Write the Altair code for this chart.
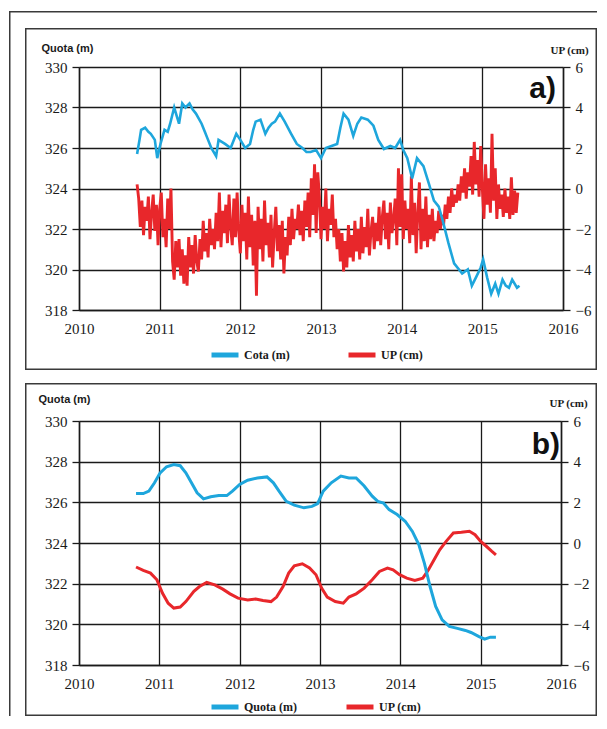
import altair as alt
import pandas as pd

YEARS = [2010, 2011, 2012, 2013, 2014, 2015, 2016]
QUOTA_TICKS = [318, 320, 322, 324, 326, 328, 330]
UP_TICKS = [-6, -4, -2, 0, 2, 4, 6]

# ---- panel a) : raw series ----
A_COTA_YEAR = [2010.72, 2010.75, 2010.77, 2010.82, 2010.86, 2010.89, 2010.94, 2010.97, 2011.01, 2011.06,
               2011.10, 2011.13, 2011.18, 2011.21, 2011.24, 2011.28, 2011.32, 2011.37, 2011.41, 2011.45,
               2011.52, 2011.56, 2011.59, 2011.64, 2011.70, 2011.73, 2011.77, 2011.81, 2011.88, 2011.95,
               2012.00, 2012.06, 2012.12, 2012.16, 2012.19, 2012.25, 2012.31, 2012.35, 2012.39, 2012.43,
               2012.49, 2012.55, 2012.63, 2012.70, 2012.77, 2012.82, 2012.87, 2012.94, 2012.97, 2013.00,
               2013.06, 2013.13, 2013.20, 2013.24, 2013.28, 2013.34, 2013.40, 2013.45, 2013.50, 2013.58,
               2013.65, 2013.71, 2013.78, 2013.86, 2013.92, 2013.98, 2014.02, 2014.07, 2014.13, 2014.19,
               2014.27, 2014.34, 2014.40, 2014.46, 2014.51, 2014.58, 2014.65, 2014.75, 2014.82, 2014.87,
               2014.92, 2014.98, 2015.01, 2015.06, 2015.11, 2015.16, 2015.20, 2015.25, 2015.29, 2015.33,
               2015.37, 2015.43, 2015.46]
A_COTA = [325.7, 326.4, 326.9, 327.0, 326.8, 326.7, 326.4, 325.5, 326.2, 326.9,
          326.8, 327.2, 328.0, 327.6, 327.2, 328.2, 328.0, 328.2, 327.9, 327.7,
          327.2, 326.8, 326.5, 326.0, 325.6, 326.4, 326.3, 326.2, 326.0, 326.7,
          326.4, 326.0, 326.2, 326.9, 327.3, 327.4, 326.7, 327.0, 327.2, 327.3,
          327.7, 327.3, 326.7, 326.2, 326.0, 325.8, 325.8, 325.9, 325.7, 325.5,
          326.0, 326.1, 326.2, 327.0, 327.7, 327.4, 326.6, 327.2, 327.5, 327.4,
          327.1, 326.4, 325.95, 326.1, 326.0, 326.4, 325.9, 325.5, 324.5, 325.5,
          325.1, 324.2, 323.4, 323.1, 322.4, 321.3, 320.3, 319.8, 320.0, 319.2,
          319.6, 320.1, 320.5, 319.6, 318.8, 319.3, 318.8, 319.5, 319.2, 319.1,
          319.5, 319.1, 319.2]

A_UP_START = 2010.72
A_UP_STEP = 0.02
A_UP = [0.2, -0.5, -1.9, -0.6, -2.3, -0.9, -1.6, -0.4, -2.5, -1.2,
        -0.3, -2.1, -0.8, -2.8, -1.0, -0.2, -2.4, -1.5, -2.9, -0.5,
        -2.0, 0.0, -3.6, -4.5, -2.6, -3.9, -2.5, -4.3, -3.0, -4.7,
        -3.3, -4.8, -2.4, -3.9, -2.8, -4.2, -2.3, -3.6, -4.1, -2.5,
        -3.5, -1.6, -3.1, -2.2, -3.4, -1.5, -2.8, -2.0, -3.0, -1.2,
        -2.6, -0.2, -2.9, -1.1, -2.2, -0.8, -2.7, -0.3, -1.9, -2.8,
        -0.5, -2.4, -0.2, -2.1, -3.2, -0.8, -2.6, -1.2, -3.5, -0.4,
        -2.9, -1.3, -3.8, -1.6, -5.3, -0.9, -3.0, -1.5, -3.6, -0.6,
        -2.8, -1.7, -3.4, -1.3, -3.9, -2.2, -0.9, -3.1, -1.8, -3.5,
        -1.6, -4.2, -2.4, -3.3, -1.4, -2.8, -1.0, -2.5, -1.5, -2.0,
        -0.8, -2.3, -1.1, -2.6, -0.6, -1.9, -0.2, -2.4, 0.5, -1.3,
        1.2, -2.2, 0.8, -0.4, -2.5, -0.9, -2.0, 0.0, -2.6, -1.0,
        -1.8, -0.3, -2.4, -1.5, -3.0, -2.0, -3.6, -2.2, -4.1, -2.6,
        -3.9, -1.8, -3.4, -2.3, -3.6, -1.6, -3.1, -2.0, -3.5, -1.4,
        -3.2, -1.9, -2.9, -1.0, -3.3, -2.1, -1.4, -3.0, -1.7, -2.6,
        -0.9, -2.8, -1.4, -0.6, -2.5, -1.2, -3.0, -0.7, -2.2, -1.5,
        -0.5, -2.8, 1.0, -1.9, 0.7, -2.5, -0.6, -2.0, -1.0, -2.7,
        0.6, -2.3, -0.7, -3.2, -1.2, 0.3, -3.0, -1.0, -2.6, -0.4,
        -2.9, -1.3, -2.5, -1.0, -2.6, -1.6, -2.2, -1.1, -2.0, -1.3,
        -1.8, -0.8, -1.5, -0.4, -1.2, 0.0, -0.9, -0.3, -0.7, 0.2,
        -0.6, 0.6, -0.2, 1.0, -0.5, 0.8, 0.1, 1.6, -0.3, 2.3,
        0.2, 1.4, -0.4, 2.1, 0.0, -1.5, 1.2, -0.8, 0.5, -1.2,
        2.7, -0.6, 1.0, -1.5, 0.2, -1.0, -0.3, -1.4, 0.0, -1.2,
        -0.4, -1.5, 0.55, -1.3, -0.1, -1.2, -0.2]
A_UP_YEAR = [round(A_UP_START + A_UP_STEP * i, 2) for i in range(len(A_UP))]

# ---- panel b) : smoothed series ----
B_QUOTA_YEAR = [2010.71, 2010.80, 2010.87, 2010.94, 2011.01, 2011.09, 2011.18, 2011.26, 2011.33, 2011.40,
                2011.47, 2011.55, 2011.64, 2011.74, 2011.84, 2011.91, 2012.00, 2012.10, 2012.22, 2012.34,
                2012.42, 2012.49, 2012.58, 2012.68, 2012.80, 2012.90, 2012.97, 2013.04, 2013.14, 2013.26,
                2013.36, 2013.45, 2013.55, 2013.65, 2013.72, 2013.79, 2013.86, 2013.96, 2014.06, 2014.15,
                2014.23, 2014.30, 2014.37, 2014.44, 2014.52, 2014.61, 2014.71, 2014.81, 2014.88, 2014.98,
                2015.05, 2015.12, 2015.19]
B_QUOTA = [326.43, 326.43, 326.55, 326.96, 327.45, 327.75, 327.86, 327.8, 327.45, 326.96,
           326.47, 326.17, 326.27, 326.33, 326.33, 326.55, 326.88, 327.09, 327.2, 327.25,
           326.96, 326.55, 326.05, 325.86, 325.73, 325.8, 325.94, 326.55, 326.96, 327.29,
           327.2, 327.2, 326.8, 326.3, 326.05, 325.97, 325.64, 325.4, 325.07, 324.57,
           323.92, 323.0, 321.86, 320.88, 320.22, 319.9, 319.8, 319.7, 319.6, 319.4,
           319.27, 319.37, 319.37]
B_UP_YEAR = [2010.71, 2010.80, 2010.89, 2010.97, 2011.04, 2011.11, 2011.18, 2011.26, 2011.33, 2011.43,
             2011.50, 2011.59, 2011.69, 2011.79, 2011.88, 2011.98, 2012.10, 2012.20, 2012.29, 2012.39,
             2012.46, 2012.54, 2012.61, 2012.68, 2012.78, 2012.87, 2012.95, 2013.02, 2013.09, 2013.19,
             2013.29, 2013.36, 2013.45, 2013.55, 2013.65, 2013.74, 2013.84, 2013.91, 2013.99, 2014.08,
             2014.18, 2014.28, 2014.35, 2014.42, 2014.49, 2014.57, 2014.66, 2014.76, 2014.86, 2014.93,
             2015.00, 2015.07, 2015.14, 2015.19]
B_UP = [-1.18, -1.35, -1.48, -1.81, -2.47, -2.96, -3.2, -3.15, -2.88, -2.38,
        -2.14, -1.94, -2.06, -2.27, -2.5, -2.71, -2.8, -2.75, -2.83, -2.88,
        -2.66, -2.14, -1.48, -1.12, -1.02, -1.23, -1.56, -2.22, -2.66, -2.88,
        -2.96, -2.66, -2.5, -2.22, -1.81, -1.4, -1.23, -1.32, -1.56, -1.73,
        -1.84, -1.73, -1.32, -0.82, -0.33, 0.08, 0.49, 0.53, 0.58, 0.41,
        0.08, -0.16, -0.41, -0.58]

BLUE = "#1ea6dc"
RED = "#e8272b"
INK = "#1a1a1a"
FRAME = "#3a3a3a"
SERIF = "Liberation Serif, Times New Roman, serif"
SANS = "Liberation Sans, Arial, sans-serif"


def box(x1, x2, y1, y2):
    return alt.Chart(pd.DataFrame({"k": [0]})).mark_rect(fill=FRAME, strokeWidth=0).encode(
        x=alt.value(x1), x2=alt.value(x2), y=alt.value(y1), y2=alt.value(y2))


def frame(x1, x2, y1, y2, t=1.5):
    return [box(x1, x2, y1, y1 + t), box(x1, x2, y2 - t, y2),
            box(x1, x1 + t, y1, y2), box(x2 - t, x2, y1, y2)]


def panel(q_year, q_val, q_name, u_year, u_val, u_name, tag, w, h, lw_q, lw_u,
          q_title_xy, u_title_xy, tag_xy, legend_xy, col_pad, frame_box, extra=None):
    dq = pd.DataFrame({"year": q_year, "quota": q_val, "serie": q_name})
    du = pd.DataFrame({"year": u_year, "up": u_val, "serie": u_name})
    one = pd.DataFrame({"k": [0]})

    x = alt.X("year:Q", scale=alt.Scale(domain=[2010, 2016], nice=False, zero=False),
              axis=alt.Axis(values=YEARS, format="d", title=None, grid=True, gridColor=INK,
                            gridWidth=1.3, domainColor=INK, domainWidth=1.5, ticks=False,
                            labelPadding=11, labelFont=SERIF, labelFontSize=15, labelColor=INK,
                            labelFlush=False))
    color = alt.Color(
        "serie:N",
        scale=alt.Scale(domain=[q_name, u_name], range=[BLUE, RED]),
        legend=alt.Legend(orient="none", legendX=legend_xy[0], legendY=legend_xy[1],
                          direction="horizontal", title=None, symbolType="stroke",
                          symbolSize=729, symbolStrokeWidth=5, labelFont=SERIF,
                          labelFontWeight="bold", labelFontSize=12, labelColor=INK,
                          labelOffset=3, columnPadding=col_pad),
    )
    y_q = alt.Y("quota:Q", scale=alt.Scale(domain=[318, 330], nice=False, zero=False),
                axis=alt.Axis(orient="left", values=QUOTA_TICKS, format="d", grid=True,
                              gridColor=INK, gridWidth=1.3, domainColor=INK, domainWidth=1.5,
                              tickColor=INK, tickSize=7, tickWidth=1.3, labelPadding=5,
                              labelFont=SERIF, labelFontSize=15, labelColor=INK,
                              title="Quota (m)", titleAngle=0, titleAlign="left",
                              titleBaseline="middle", titleX=q_title_xy[0], titleY=q_title_xy[1],
                              titleFont=SANS, titleFontWeight="bold", titleFontSize=11,
                              titleColor=INK))
    y_u = alt.Y("up:Q", scale=alt.Scale(domain=[-6, 6], nice=False, zero=False),
                axis=alt.Axis(orient="right", values=UP_TICKS, format="d", grid=False,
                              domainColor=INK, domainWidth=1.5, tickColor=INK, tickSize=7,
                              tickWidth=1.3, labelPadding=5, labelFont=SERIF, labelFontSize=15,
                              labelColor=INK, title="UP (cm)", titleAngle=0, titleAlign="left",
                              titleBaseline="middle", titleX=u_title_xy[0], titleY=u_title_xy[1],
                              titleFont=SERIF, titleFontWeight="bold", titleFontSize=11,
                              titleColor=INK))

    red = alt.Chart(du).mark_line(strokeWidth=lw_u).encode(x=x, y=y_u, color=color)
    blue = alt.Chart(dq).mark_line(strokeWidth=lw_q).encode(x=x, y=y_q, color=color)

    label = alt.Chart(one).mark_text(text=tag, align="right", baseline="middle", font=SANS,
                                     fontWeight="bold", fontSize=30, color="#111").encode(
        x=alt.value(tag_xy[0]), y=alt.value(tag_xy[1]))

    layers = [red, blue, label] + frame(*frame_box)
    if extra:
        layers += extra
    return alt.layer(*layers).resolve_scale(y="independent").properties(width=w, height=h)


# outer frame pieces (top edge and left edge), relative to panel a plot origin
outer = [box(-70, 518, -56, -54.5), box(-70, -68.5, -56, 649)]

chart_a = panel(A_COTA_YEAR, A_COTA, "Cota (m)", A_UP_YEAR, A_UP, "UP (cm)", "a)",
                484, 243, 2.6, 2.9,
                q_title_xy=(-38, -19), u_title_xy=(-13, -17), tag_xy=(477, 22),
                legend_xy=(130, 272), col_pad=48, frame_box=(-54, 518, -39, 303),
                extra=outer)
chart_b = panel(B_QUOTA_YEAR, B_QUOTA, "Quota (m)", B_UP_YEAR, B_UP, "UP (cm)", "b)",
                482, 244, 3.0, 3.0,
                q_title_xy=(-41, -22), u_title_xy=(-12, -18), tag_xy=(481, 24),
                legend_xy=(130, 270), col_pad=39, frame_box=(-54, 518, -38, 295))

chart = alt.vconcat(chart_a, chart_b, spacing=111, bounds="flush").resolve_scale(
    color="independent").properties(
    padding={"left": 1, "top": 3, "right": 0, "bottom": 0},
    background="white",
).configure_view(strokeWidth=0)

chart.save("out.html", embed_options={"renderer": "svg", "actions": False})
